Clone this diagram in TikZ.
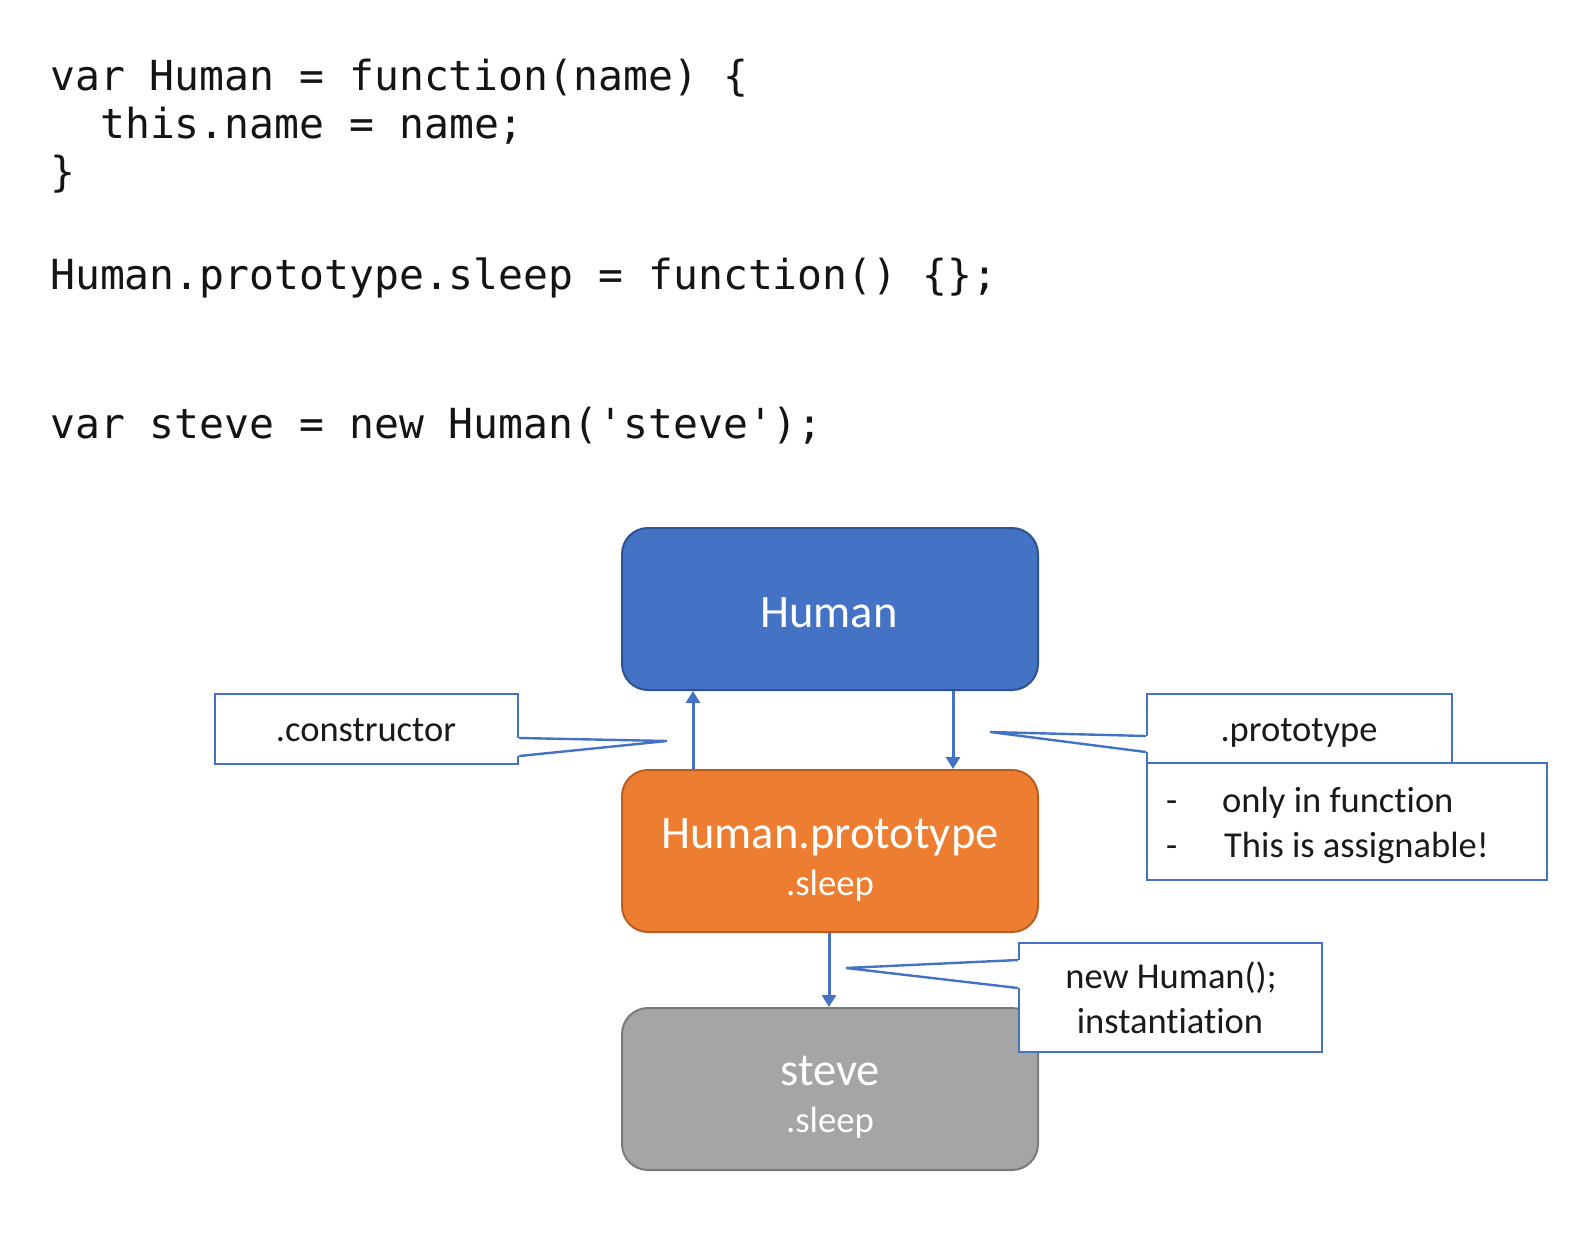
\documentclass[tikz,border=0pt]{standalone}
\usepackage{fontspec}
\setmainfont{Carlito}[Ligatures={TeX,NoCommon}]
\setmonofont{DejaVu Sans Mono}
\usetikzlibrary{arrows.meta}
\definecolor{hblue}{HTML}{4472C4}
\definecolor{hblueD}{HTML}{2F528F}
\definecolor{horange}{HTML}{ED7D31}
\definecolor{horangeD}{HTML}{B95E22}
\definecolor{hgray}{HTML}{A5A5A5}
\definecolor{hgrayD}{HTML}{7A7A7A}
\definecolor{codecol}{HTML}{141414}
\definecolor{txtcol}{HTML}{1A1A1A}
\tikzset{
  code/.style={anchor=base west, inner sep=0pt, text=codecol, font=\ttfamily\fontsize{41.4}{48}\selectfont},
  objbox/.style={rounded corners=26pt, line width=2pt, minimum width=416pt, minimum height=162pt, inner sep=0pt},
  boxtitle/.style={anchor=base, inner sep=0pt, text=white, font=\fontsize{46.5}{52}\selectfont},
  boxsub/.style={anchor=base, inner sep=0pt, text=white, font=\fontsize{36.7}{42}\selectfont},
  callbox/.style={draw=hblue, fill=white, line width=2.4pt, inner sep=0pt},
  cline/.style={draw=hblue, line width=2.4pt, line join=miter},
  calltext/.style={anchor=base, inner sep=0pt, text=txtcol, font=\fontsize{36.5}{42}\selectfont},
  arr/.style={draw=hblue, line width=3pt, -{Triangle[width=14pt,length=12pt]}},
}
\begin{document}
\begin{tikzpicture}[x=1pt,y=-1pt]
\useasboundingbox[fill=white] (0,0) rectangle (1574,1250);

% code
\node[code] (c1) at (50,90) {var Human = function(name) \{};
\node[code] (c2) at (100,138) {this.name = name;};
\node[code] (c3) at (50,186) {\}};
\node[code] (c4) at (50,289) {Human.prototype.sleep = function() \{\};};
\node[code] (c5) at (50,438) {var steve = new Human('steve');};

% object boxes
\node[objbox, fill=hblue, draw=hblueD] (human) at (830,609) {};
\node[boxtitle] (humanT) at (829,627) {Human};

\node[objbox, fill=horange, draw=horangeD] (proto) at (830,851) {};
\node[boxtitle] (protoT) at (830,848) {Human.prototype};
\node[boxsub] (protoS) at (830,895) {.sleep};

\node[objbox, fill=hgray, draw=hgrayD] (steve) at (830,1089) {};
\node[boxtitle] (steveT) at (830,1085) {steve};
\node[boxsub] (steveS) at (830,1132) {.sleep};

% arrows
\draw[arr] ([xshift=-137pt]proto.north) -- ([xshift=-137pt]human.south);
\draw[arr] ([xshift=123pt]human.south) -- ([xshift=123pt]proto.north);
\draw[arr] ([xshift=-1pt]proto.south) -- ([xshift=-1pt]steve.north);

% .constructor callout
\node[callbox, minimum width=303pt, minimum height=70pt] (ctor) at (366.5,729) {};
\coordinate (ctip) at (667,741);
\fill[white] ([shift={(-3pt,-9pt)}]ctor.east) -- (ctip) -- ([shift={(-3pt,-27pt)}]ctor.east) -- cycle;
\draw[cline] ([yshift=-9pt]ctor.east) -- (ctip) -- ([yshift=-27pt]ctor.east);
\node[calltext] (ctorT) at (366,741) {.constructor};

% .prototype callout
\node[callbox, minimum width=305pt, minimum height=69pt] (ptop) at (1299.5,728.5) {};
\node[callbox, minimum width=400pt, minimum height=117pt] (pbot) at (1347,821.5) {};
\coordinate (ptip) at (990,732);
\fill[white] ([shift={(3pt,-7.5pt)}]ptop.west) -- (ptip) -- ([shift={(3pt,-23.5pt)}]ptop.west) -- cycle;
\draw[cline] ([yshift=-7.5pt]ptop.west) -- (ptip) -- ([yshift=-23.5pt]ptop.west);
\node[calltext] (ptopT) at (1299,741) {.prototype};
\node[calltext, anchor=base west] (pd1) at (1166,812) {-};
\node[calltext, anchor=base west] (pl1) at (1222,812) {only in function};
\node[calltext, anchor=base west] (pd2) at (1166,857) {-};
\node[calltext, anchor=base west] (pl2) at (1224,857) {This is assignable!};

% new Human(); callout
\node[callbox, minimum width=303pt, minimum height=109pt] (nh) at (1170.5,997.5) {};
\coordinate (ntip) at (846,968);
\fill[white] ([shift={(3pt,37.5pt)}]nh.west) -- (ntip) -- ([shift={(3pt,9.5pt)}]nh.west) -- cycle;
\draw[cline] ([yshift=37.5pt]nh.west) -- (ntip) -- ([yshift=9.5pt]nh.west);
\node[calltext] (nhT1) at (1171,988) {new Human();};
\node[calltext] (nhT2) at (1170,1033) {instantiation};
\end{tikzpicture}
\end{document}
